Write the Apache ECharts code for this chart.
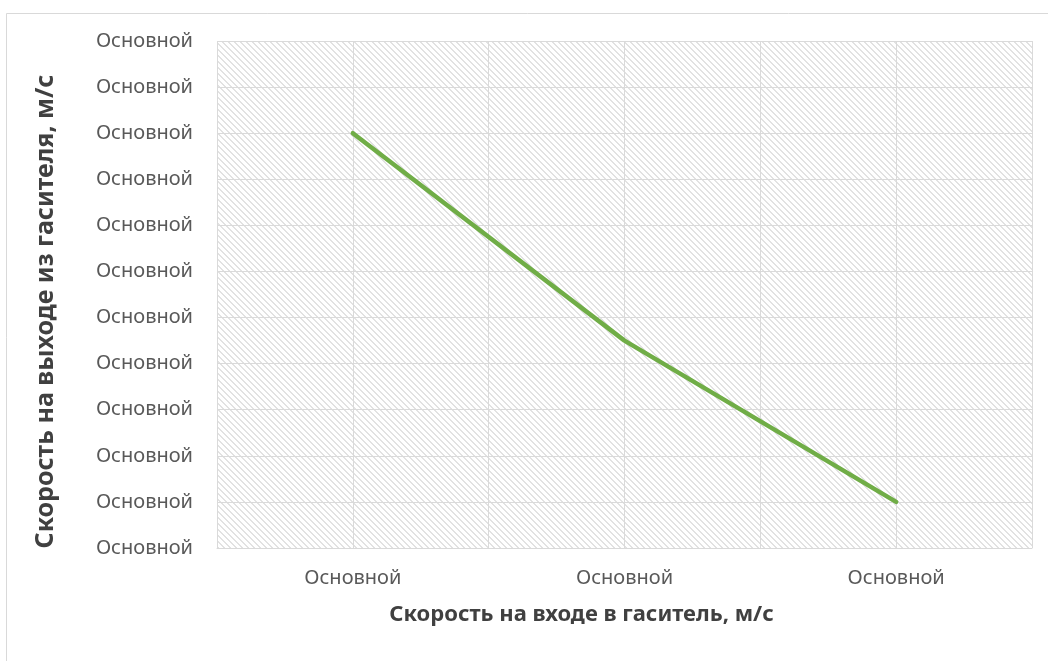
<!DOCTYPE html>
<html>
<head>
<meta charset="utf-8">
<script src="https://cdn.jsdelivr.net/npm/echarts@6/dist/echarts.min.js"></script>
<style>
  html, body { margin: 0; padding: 0; background: #ffffff; }
  #chart { width: 1048px; height: 661px; }
</style>
</head>
<body>
<div id="chart"></div>
<script>
// Categories on the horizontal axis (inlet speed)
const categories = ['Основной', 'Основной', 'Основной'];
// Outlet speed values per category
const outletSpeed = [9, 4.5, 1];
// Vertical axis tick labels, bottom to top
const yTickLabels = ['Основной', 'Основной', 'Основной', 'Основной', 'Основной', 'Основной',
                     'Основной', 'Основной', 'Основной', 'Основной', 'Основной', 'Основной'];
// Half-step slots used only for the finer vertical grid lines
const gridSlots = ['', '', '', '', '', ''];

const xTitle = 'Скорость на входе в гаситель, м/с';
const yTitle = 'Скорость на выходе из гасителя, м/с';

// Diagonal hatch tile for the plot background
function hatchTile() {
  const size = 6;
  const c = document.createElement('canvas');
  c.width = size; c.height = size;
  const ctx = c.getContext('2d');
  ctx.fillStyle = '#ffffff';
  ctx.fillRect(0, 0, size, size);
  ctx.fillStyle = '#e2e2e2';
  for (let i = 0; i < size; i++) {
    ctx.fillRect(i, i, 1, 1);
    ctx.fillRect((i + 1) % size, i, 1, 1);
  }
  return c;
}

const chart = echarts.init(document.getElementById('chart'), null, { renderer: 'canvas' });
const labelFont = 'Noto Sans';

chart.setOption({
  animation: false,
  backgroundColor: '#ffffff',
  graphic: [{
    type: 'rect',
    left: 4, top: 11,
    shape: { width: 1100, height: 700 },
    style: { fill: 'none', stroke: '#d9d9d9', lineWidth: 1 },
    silent: true, z: -1
  }],
  grid: {
    left: 217, right: 16, top: 41, bottom: 113,
    show: true,
    borderWidth: 0,
    backgroundColor: { image: hatchTile(), repeat: 'repeat' }
  },
  xAxis: [{
    type: 'category',
    data: categories,
    boundaryGap: true,
    name: xTitle,
    nameLocation: 'middle',
    nameGap: 56,
    nameTextStyle: {
      fontFamily: labelFont, fontSize: 22, fontWeight: 'bold', color: '#404040',
      padding: [0, 86, 0, 0]
    },
    axisLine: { show: true, lineStyle: { color: '#d9d9d9', width: 1 } },
    axisTick: { show: false },
    axisLabel: { fontFamily: labelFont, fontSize: 20, color: '#595959', margin: 20 },
    splitLine: { show: true, lineStyle: { color: '#dadada', width: 1 } }
  }, {
    type: 'category',
    data: gridSlots,
    boundaryGap: true,
    position: 'bottom',
    axisLine: { show: false },
    axisTick: { show: false },
    axisLabel: { show: false },
    splitLine: { show: true, lineStyle: { color: '#dadada', width: 1 } }
  }],
  yAxis: {
    type: 'value',
    min: 0, max: 11, interval: 1,
    name: yTitle,
    nameLocation: 'middle',
    nameGap: 159,
    nameTextStyle: {
      fontFamily: labelFont, fontSize: 25, fontWeight: 'bold', color: '#404040',
      padding: [0, 34, 0, 0]
    },
    axisLine: { show: false },
    axisTick: { show: false },
    axisLabel: {
      fontFamily: labelFont, fontSize: 20, color: '#595959', margin: 24,
      formatter: (v) => yTickLabels[Math.round(v)]
    },
    splitLine: { show: true, lineStyle: { color: '#dadada', width: 1 } }
  },
  series: [{
    type: 'line',
    xAxisIndex: 0,
    data: outletSpeed,
    symbol: 'none',
    lineStyle: { color: '#70ad47', width: 4.5, cap: 'round' }
  }]
});
</script>
</body>
</html>
